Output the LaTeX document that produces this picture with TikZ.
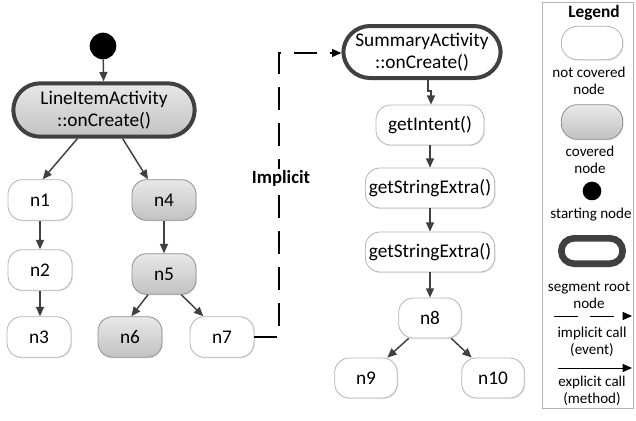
\documentclass[tikz,border=0pt]{standalone}
\usepackage{fontspec}
\setmainfont{Carlito}
\usepackage{tikz}
\usetikzlibrary{arrows.meta}
\usetikzlibrary{shadows}
\definecolor{edgegray}{HTML}{404040}
\definecolor{linegray}{HTML}{B4B4B4}
\definecolor{covgray}{HTML}{8E8E8E}

\begin{document}
\begin{tikzpicture}[x=0.75pt, y=-0.75pt,
		plain/.style={draw=linegray, fill=white, line width=0.6pt, rounded corners=11pt, align=center,
			font=\fontsize{14.5}{17}\selectfont, inner sep=2pt,
			drop shadow={shadow xshift=0.8pt, shadow yshift=-0.8pt, opacity=0.18}},
		covered/.style={plain, draw=covgray, top color=black!9, bottom color=black!24},
		segroot/.style={draw=edgegray, line width=3pt, rounded corners=20pt},
		startdot/.style={circle, fill=black, inner sep=0pt},
		arr/.style={draw=edgegray, line width=1.1pt, -{Triangle[length=7pt,width=6pt]}},
		impl/.style={draw=black, line width=0.9pt, dash pattern=on 17pt off 10pt, -{Triangle[length=7pt,width=6pt]}},
		legtext/.style={align=center, font=\fontsize{11.3}{12.8}\selectfont, inner sep=0pt}]
	\useasboundingbox (0,0) rectangle (636,421);

	% left segment
	\node[startdot, minimum size=20pt] (start) at (103,46) {};
	\node[covered, segroot, minimum width=136pt, minimum height=40pt] (li) at (104,110) {LineItemActivity\\::onCreate()};
	\node[plain, minimum width=48pt, minimum height=30.5pt] (n1) at (40,200) {n1};
	\node[plain, minimum width=48pt, minimum height=30.5pt] (n2) at (40,270) {n2};
	\node[plain, minimum width=48pt, minimum height=30.5pt] (n3) at (39,337) {n3};
	\node[covered, minimum width=48pt, minimum height=30.5pt] (n4) at (164,200) {n4};
	\node[covered, minimum width=48pt, minimum height=30.5pt] (n5) at (164,274) {n5};
	\node[covered, minimum width=48pt, minimum height=30.5pt] (n6) at (130,337) {n6};
	\node[plain, minimum width=48pt, minimum height=30.5pt] (n7) at (222,337) {n7};

	\draw[arr] (start) -- (li);
	\draw[arr] ([xshift=-20pt]li.south) -- ([xshift=2pt]n1.north);
	\draw[arr] ([xshift=14pt]li.south) -- ([xshift=-12pt]n4.north);
	\draw[arr] (n1) -- (n2);
	\draw[arr] (n2.south) -- (n2.south |- n3.north);
	\draw[arr] (n4) -- (n5);
	\draw[arr] ([xshift=-12pt]n5.south) -- ([xshift=1pt]n6.north);
	\draw[arr] ([xshift=13pt]n5.south) -- ([xshift=-14pt]n7.north);

	% right segment
	\node[plain, segroot, minimum width=118pt, minimum height=39pt] (sa) at (422,52) {SummaryActivity\\::onCreate()};
	\node[plain, minimum width=81pt, minimum height=30pt] (gi) at (430,125) {getIntent()};
	\node[plain, minimum width=97pt, minimum height=30pt] (gs1) at (430,188) {getStringExtra()};
	\node[plain, minimum width=97pt, minimum height=30pt] (gs2) at (430,252) {getStringExtra()};
	\node[plain, minimum width=47pt, minimum height=30pt] (n8) at (430,318) {n8};
	\node[plain, minimum width=47pt, minimum height=30pt] (n9) at (366,378) {n9};
	\node[plain, minimum width=47pt, minimum height=30pt] (n10) at (493,378) {n10};

	\draw[arr] ([xshift=4.5pt]sa.south) -- ++(0,11) -| ([xshift=0.75pt]gi.north);
	\draw[arr] (gi) -- (gs1);
	\draw[arr] (gs1) -- (gs2);
	\draw[arr] (gs2) -- (n8);
	\draw[arr] ([xshift=-16pt]n8.south) -- ([xshift=16pt]n9.north);
	\draw[arr] ([xshift=16pt]n8.south) -- ([xshift=-16pt]n10.north);

	% implicit call
	\coordinate (turn) at (279,53);
	\draw[impl] (n7.east) -| (turn) -- (turn -| sa.west);
	\node[fill=white, font=\fontsize{14}{17}\selectfont\bfseries, inner sep=1pt] (impl) at (281,178) {Implicit};

	% legend
	\draw[linegray, line width=0.75pt] (542,2) rectangle (633,408);
	\node[font=\fontsize{13}{15}\selectfont\bfseries, inner sep=0pt] (legend) at (594,13) {Legend};
	\node[plain, rounded corners=12pt, minimum width=46pt, minimum height=25pt] (lgplain) at (592,43) {};
	\node[legtext] (lgplaintxt) at (589,81) {not covered\\node};
	\node[covered, rounded corners=12pt, minimum width=46pt, minimum height=26pt] (lgcov) at (592,122) {};
	\node[legtext] (lgcovtxt) at (590,160) {covered\\node};
	\node[startdot, minimum size=14pt] (lgstart) at (592,191) {};
	\node[legtext] (lgstarttxt) at (591,215) {starting node};
	\node[draw=edgegray, line width=5pt, rounded corners=9.5pt, minimum width=46pt, minimum height=19pt] (lgroot) at (592,251) {};
	\node[legtext] (lgroottxt) at (589,295) {segment root\\node};
	\coordinate (lgia) at (554,316);
	\coordinate (lgib) at (632,316);
	\draw[impl, line width=0.75pt, dash pattern=on 18pt off 9pt] (lgia) -- (lgib);
	\node[legtext] (lgimpltxt) at (592,342) {implicit call\\(event)};
	\coordinate (lgea) at (558,368);
	\coordinate (lgeb) at (632,368);
	\draw[black, line width=0.75pt, -{Triangle[length=7pt,width=6pt]}] (lgea) -- (lgeb);
	\node[legtext] (lgexpltxt) at (592,391) {explicit call\\(method)};
\end{tikzpicture}
\end{document}
